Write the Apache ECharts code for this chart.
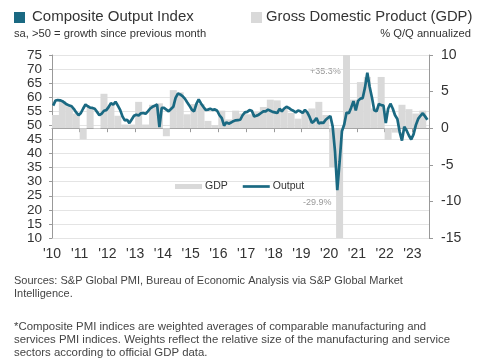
<!DOCTYPE html>
<html>
<head>
<meta charset="utf-8">
<script src="https://cdn.jsdelivr.net/npm/echarts@6/dist/echarts.min.js"></script>
<style>
html,body{margin:0;padding:0;background:#fff;}
#chart{width:485px;height:360px;}
</style>
</head>
<body>
<div id="chart"></div>
<script>
// ---- Data ----
const startYear = 2010;
const yearLabels = ["'10","'11","'12","'13","'14","'15","'16","'17","'18","'19","'20","'21","'22","'23"];
const pmi2010 = [57.0, 58.8, 59.0, 58.9, 58.6, 58.0, 57.4, 57.1, 56.8, 55.8, 54.6, 53.6];
const pmi2011 = [54.4, 56.0, 57.4, 56.8, 56.3, 56.2, 55.9, 54.8, 53.6, 54.2, 55.2, 55.4];
const pmi2012 = [56.5, 57.9, 57.4, 58.4, 57.0, 55.5, 53.2, 51.8, 52.0, 50.8, 52.1, 53.4];
const pmi2013 = [53.8, 53.5, 54.3, 54.4, 54.1, 55.0, 56.0, 56.6, 57.0, 57.4, 49.4, 56.2];
const pmi2014 = [56.2, 55.6, 55.0, 55.8, 56.6, 59.8, 61.3, 61.0, 60.4, 59.5, 58.2, 57.0];
const pmi2015 = [55.6, 55.0, 57.6, 59.2, 57.8, 56.6, 55.5, 55.6, 55.9, 55.5, 55.7, 55.2];
const pmi2016 = [53.6, 52.6, 49.9, 51.1, 50.6, 51.0, 51.5, 51.8, 51.9, 52.0, 53.6, 54.6];
const pmi2017 = [54.8, 55.4, 55.2, 53.2, 53.4, 53.8, 54.4, 55.0, 55.0, 55.6, 55.2, 54.8];
const pmi2018 = [54.6, 54.4, 55.9, 55.0, 56.0, 56.6, 56.2, 55.6, 55.2, 54.6, 55.3, 55.0];
const pmi2019 = [54.4, 55.5, 54.6, 53.0, 50.9, 51.5, 52.6, 50.7, 51.0, 50.9, 52.0, 52.7];
const pmi2020 = [53.3, 49.6, 40.9, 27.0, 37.0, 47.9, 50.3, 54.6, 54.3, 56.3, 58.6, 55.3];
const pmi2021 = [58.7, 59.5, 59.7, 63.5, 68.7, 63.7, 59.9, 55.4, 55.0, 57.6, 57.2, 57.0];
const pmi2022 = [50.8, 55.9, 57.7, 56.0, 53.6, 52.3, 47.7, 44.6, 49.5, 48.2, 46.4, 45.0];
const pmi2023 = [46.8, 50.1, 52.3, 53.4, 54.3, 53.2, 52.0];

// GDP, % Q/Q annualized, quarterly from 2010 Q1
const gdp2010 = [1.8, 3.7, 3.0, 2.0];
const gdp2011 = [-1.5, 2.9, -0.1, 4.7];
const gdp2012 = [3.2, 1.7, 0.5, 0.5];
const gdp2013 = [3.6, 0.5, 3.2, 3.4];
const gdp2014 = [-1.1, 5.2, 4.9, 1.9];
const gdp2015 = [3.3, 3.3, 1.0, 0.4];
const gdp2016 = [2.4, 1.2, 2.4, 2.0];
const gdp2017 = [1.9, 2.2, 2.9, 3.9];
const gdp2018 = [3.8, 2.7, 2.1, 1.3];
const gdp2019 = [2.2, 2.7, 3.6, 1.8];
const gdp2020 = [-5.3, -29.9, 35.3, 3.9];
const gdp2021 = [6.3, 7.0, 2.7, 7.0];
const gdp2022 = [-1.6, -0.6, 3.2, 2.6];
const gdp2023 = [2.0, 2.4];

const pmiYears = [pmi2010,pmi2011,pmi2012,pmi2013,pmi2014,pmi2015,pmi2016,pmi2017,pmi2018,pmi2019,pmi2020,pmi2021,pmi2022,pmi2023];
const gdpYears = [gdp2010,gdp2011,gdp2012,gdp2013,gdp2014,gdp2015,gdp2016,gdp2017,gdp2018,gdp2019,gdp2020,gdp2021,gdp2022,gdp2023];

// months plotted at mid-month, quarters at mid-quarter
const pmiData = [];
pmiYears.forEach((arr, yi) => arr.forEach((v, mi) => pmiData.push([startYear + yi + (mi + 0.5) / 12, v])));
const gdpData = [];
gdpYears.forEach((arr, yi) => arr.forEach((v, qi) => gdpData.push([startYear + yi + (qi * 3 + 1.5) / 12, v])));

const FONT = 'Liberation Sans, Arial, sans-serif';
const TEAL = '#1a6982';
const GRAY_BAR = '#d9d9d9';
const yearTicks = yearLabels.map((_, i) => startYear + i);

const chart = echarts.init(document.getElementById('chart'), null, {renderer: 'canvas'});
chart.setOption({
  animation: false,
  backgroundColor: '#fff',
  textStyle: {fontFamily: FONT},
  grid: {left: 52, right: 56, top: 55, bottom: 122, containLabel: false},
  legend: {
    left: 170, top: 176,
    itemWidth: 27, itemHeight: 5, itemGap: 15,
    textStyle: {fontFamily: FONT, fontSize: 10.5, color: '#333', padding: [0,0,0,-2]},
    data: [
      {name: 'GDP', icon: 'rect'},
      {name: 'Output', icon: 'path://M0,0H30V3H0Z'}
    ]
  },
  xAxis: {
    type: 'value', min: startYear, max: 2023.6,
    axisLine: {show: true, lineStyle: {color: '#999', width: 1}},
    axisTick: {show: true, length: 4, lineStyle: {color: '#999'}, customValues: yearTicks},
    axisLabel: {
      customValues: yearTicks,
      margin: 9, fontSize: 14, color: '#333', fontFamily: FONT,
      formatter: v => yearLabels[Math.round(v - startYear)] || ''
    },
    splitLine: {show: false}
  },
  yAxis: [
    {
      type: 'value', min: 10, max: 75, interval: 5, position: 'left',
      axisLine: {show: true, lineStyle: {color: '#999'}},
      axisTick: {show: true, length: 3, lineStyle: {color: '#999'}},
      axisLabel: {fontSize: 13.5, color: '#333', margin: 10, fontFamily: FONT},
      splitLine: {show: true, lineStyle: {color: '#e4e4e4', width: 1}}
    },
    {
      type: 'value', min: -15, max: 10, interval: 5, position: 'right',
      axisLine: {show: true, lineStyle: {color: '#999'}},
      axisTick: {show: true, length: 4, lineStyle: {color: '#999'}},
      axisLabel: {fontSize: 14, color: '#333', margin: 12, fontFamily: FONT},
      splitLine: {show: false}
    }
  ],
  series: [
    {
      name: 'GDP', type: 'bar', xAxisIndex: 0, yAxisIndex: 1,
      data: gdpData, barWidth: 7, clip: true,
      itemStyle: {color: GRAY_BAR},
      z: 1
    },
    {
      name: 'Output', type: 'line', xAxisIndex: 0, yAxisIndex: 0,
      data: pmiData, showSymbol: false, symbol: 'none',
      lineStyle: {color: TEAL, width: 2.7},
      itemStyle: {color: TEAL},
      z: 3
    }
  ],
  graphic: [
    {type: 'rect', left: 14, top: 12, shape: {width: 11, height: 11}, style: {fill: TEAL}},
    {type: 'text', left: 32, top: 9, style: {text: 'Composite Output Index', font: '15px ' + FONT, fill: '#333'}},
    {type: 'text', left: 14, top: 28, style: {text: 'sa, >50 = growth since previous month', font: '11.2px ' + FONT, fill: '#333'}},
    {type: 'rect', left: 251, top: 12, shape: {width: 11, height: 11}, style: {fill: GRAY_BAR}},
    {type: 'text', left: 266, top: 9, style: {text: 'Gross Domestic Product (GDP)', font: '14.8px ' + FONT, fill: '#333'}},
    {type: 'text', right: 14, top: 28, style: {text: '% Q/Q annualized', font: '11.2px ' + FONT, fill: '#333'}},
    {type: 'text', left: 310, top: 67, style: {text: '+35.3%', font: '9px ' + FONT, fill: '#999'}},
    {type: 'text', left: 303, top: 198, style: {text: '-29.9%', font: '9px ' + FONT, fill: '#999'}},
    {type: 'text', left: 14, top: 274, style: {text: 'Sources: S&P Global PMI, Bureau of Economic Analysis via S&P Global Market\nIntelligence.', font: '11px ' + FONT, fill: '#444', lineHeight: 13}},
    {type: 'text', left: 14, top: 320, style: {text: '*Composite PMI indices are weighted averages of comparable manufacturing and\nservices PMI indices. Weights reflect the relative size of the manufacturing and service\nsectors according to official GDP data.', font: '11.4px ' + FONT, fill: '#444', lineHeight: 13.2}}
  ]
});
</script>
</body>
</html>
